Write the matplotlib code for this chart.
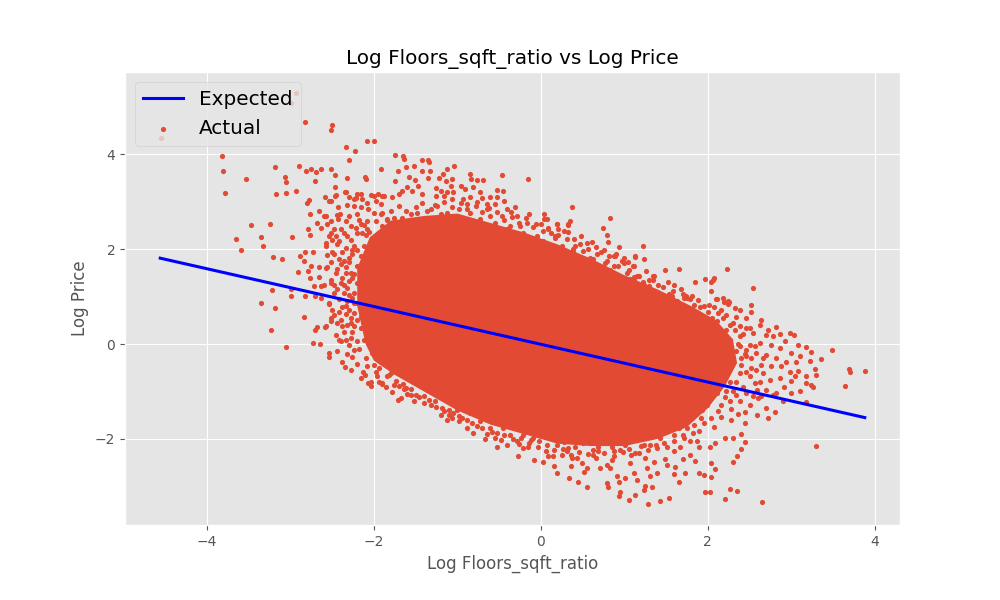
import matplotlib
matplotlib.use("Agg")
import matplotlib.pyplot as plt

plt.style.use("ggplot")

# regression line ("Expected"), end points
expected_x = [-4.56, 3.88]
expected_y = [1.81, -1.55]

# outline of the packed part of the cloud, where single dots can't be told apart
core_outline = [
    (-2.1, 0.0), (-2.2, 0.8), (-2.2, 1.6), (-2.05, 2.25), (-1.8, 2.6),
    (-1.4, 2.7), (-1.0, 2.75), (-0.6, 2.55), (-0.2, 2.35), (0.2, 2.1),
    (0.6, 1.8), (1.0, 1.45), (1.4, 1.15), (1.8, 0.8), (2.1, 0.5),
    (2.3, 0.1), (2.35, -0.4), (2.2, -0.9), (2.0, -1.35), (1.75, -1.75),
    (1.4, -2.0), (1.0, -2.15), (0.6, -2.15), (0.2, -2.1), (-0.2, -1.9),
    (-0.6, -1.7), (-1.0, -1.4), (-1.4, -1.0), (-1.75, -0.65), (-2.0, -0.35),
]

# single dots, grouped by where they sit in the cloud
far_left_pts = [
    (-2.93, 5.30), (-2.99, 5.09), (-2.83, 4.68), (-2.50, 4.62), (-2.52, 4.51),
    (-4.55, 4.35), (-2.08, 4.28), (-2.00, 4.28), (-2.34, 4.16), (-2.23, 4.07),
    (-2.30, 3.88), (-3.82, 3.97), (-3.81, 3.65), (-3.53, 3.48), (-3.78, 3.19),
    (-3.19, 3.73), (-2.90, 3.76), (-2.81, 3.64), (-2.75, 3.68), (-2.69, 3.63),
    (-2.64, 3.68), (-2.52, 3.68), (-2.47, 3.57), (-3.07, 3.52), (-3.05, 3.42),
    (-2.70, 3.44), (-2.32, 3.50), (-2.10, 3.47), (-2.11, 3.53), (-2.47, 3.32),
    (-2.93, 3.23), (-3.05, 3.19), (-3.17, 3.16), (-2.78, 3.03), (-2.80, 2.98),
    (-2.59, 3.10), (-2.52, 3.01), (-2.47, 3.12), (-2.35, 3.21), (-2.30, 3.10),
    (-2.22, 3.07), (-2.16, 3.16), (-2.04, 3.14), (-2.66, 2.81), (-2.77, 2.74),
    (-2.58, 2.70), (-2.68, 2.55), (-2.79, 2.42), (-2.64, 2.45), (-2.76, 2.30),
    (-3.47, 2.51), (-3.25, 2.53), (-3.35, 2.26), (-3.33, 2.07), (-3.65, 2.22),
    (-3.59, 1.98), (-2.98, 2.26), (-3.21, 1.84), (-3.10, 1.80), (-2.89, 1.86),
    (-2.83, 1.94), (-2.73, 1.93), (-2.84, 1.74), (-2.75, 1.65), (-2.66, 1.62),
    (-2.56, 1.63), (-2.91, 1.52), (-2.79, 1.54), (-2.66, 1.41), (-2.77, 1.39),
    (-3.22, 1.14), (-2.99, 1.15), (-2.99, 1.01), (-3.35, 0.87), (-2.72, 1.22),
    (-2.63, 1.22), (-2.52, 1.29), (-2.48, 1.08), (-3.19, 0.76), (-2.83, 1.01),
    (-2.71, 1.01), (-2.64, 0.97), (-2.54, 0.84), (-2.84, 0.57), (-3.23, 0.30),
    (-3.05, -0.06), (-2.73, 0.02), (-2.65, 0.00), (-2.71, 0.30), (-2.68, 0.36),
    (-2.59, 0.36), (-2.51, 0.48), (-2.52, 0.55), (-2.42, 0.68), (-2.40, 0.51),
    (-2.34, 0.63), (-2.30, 0.72), (-2.24, 0.65), (-2.32, 0.41), (-2.38, 0.37),
    (-2.27, 0.44), (-2.20, 0.51), (-2.16, 0.34), (-2.54, -0.27), (-2.44, -0.15),
    (-2.38, -0.38), (-2.35, -0.49), (-2.32, -0.21), (-2.26, -0.27), (-2.24, -0.12),
    (-2.40, 0.06), (-2.34, 0.09), (-2.20, 0.06), (-2.12, 0.09), (-2.10, -0.30),
    (-2.08, -0.47), (-2.13, -0.58), (-2.11, -0.65), (-2.07, -0.82), (-2.03, -0.88),
    (-1.98, -0.58), (-1.94, -0.80), (-1.90, -0.84), (-2.00, -0.44), (-1.92, -0.37),
    (-2.02, -0.19), (-1.88, -0.26), (-1.96, -0.08), (-2.08, 0.27), (-2.00, 0.34),
    (-1.92, 0.20), (-2.02, 0.13), (-2.08, 0.55), (-1.98, 0.62), (-1.90, 0.48),
]

upper_left_pts = [
    (-2.20, 3.16), (-2.14, 3.05), (-2.00, 3.12), (-1.95, 3.16), (-1.90, 3.11),
    (-1.98, 3.02), (-2.08, 2.98), (-1.92, 2.95), (-2.43, 2.88), (-2.32, 2.93),
    (-2.24, 2.91), (-2.16, 2.88), (-2.07, 2.84), (-2.00, 2.77), (-1.91, 2.74),
    (-2.41, 2.74), (-2.30, 2.70), (-2.20, 2.74), (-2.52, 2.59), (-2.43, 2.63),
    (-2.34, 2.59), (-2.27, 2.49), (-2.16, 2.52), (-2.08, 2.42), (-1.98, 2.59),
    (-1.90, 2.49), (-2.48, 2.42), (-2.40, 2.42), (-2.56, 2.52), (-2.54, 2.28),
    (-2.46, 2.28), (-2.32, 2.28), (-2.20, 2.35), (-2.10, 2.29), (-2.00, 2.21),
    (-1.88, 2.28), (-2.57, 2.07), (-2.44, 2.10), (-2.34, 2.03), (-2.24, 2.07),
    (-2.12, 2.07), (-2.02, 2.00), (-1.92, 2.07), (-2.48, 1.89), (-2.38, 1.93),
    (-2.26, 1.89), (-2.16, 1.86), (-2.06, 1.82), (-1.96, 1.87), (-1.86, 1.89),
    (-2.52, 1.72), (-2.40, 1.68), (-2.30, 1.72), (-2.20, 1.65), (-2.10, 1.68),
    (-1.98, 1.65), (-1.88, 1.65), (-2.46, 1.50), (-2.34, 1.50), (-2.24, 1.47),
    (-2.14, 1.50), (-2.02, 1.43), (-1.92, 1.47), (-2.40, 1.29), (-2.30, 1.33),
    (-2.20, 1.29), (-2.10, 1.22), (-1.98, 1.26), (-1.88, 1.29), (-2.36, 1.08),
    (-2.24, 1.08), (-2.14, 1.05), (-2.04, 1.08), (-1.92, 1.05), (-2.32, 0.91),
    (-2.20, 0.87), (-2.46, 3.15), (-2.54, 3.01), (-2.34, 3.20), (-2.24, 3.05),
    (-2.60, 2.69), (-2.44, 2.73), (-2.08, 2.59), (-1.84, 2.62), (-2.52, 2.34),
    (-2.14, 2.34), (-2.58, 2.13), (-2.20, 1.99), (-1.94, 1.92), (-2.56, 1.88),
    (-2.36, 1.74), (-2.58, 1.60), (-2.28, 1.50), (-2.04, 1.43), (-2.52, 1.36),
    (-2.36, 1.25), (-2.12, 1.22), (-2.60, 1.25), (-2.44, 1.15), (-2.30, 1.04),
    (-2.54, 0.86), (-2.38, 0.79), (-2.24, 0.86), (-2.48, 0.62), (-2.16, 0.58),
    (-2.58, 0.37), (-2.24, 0.37), (-2.42, 0.09), (-2.28, 0.13), (-2.54, -0.18),
    (-2.04, -0.79), (-1.84, -0.68), (-1.96, 0.80), (-1.90, 0.95),
]

upper_pts = [
    (-1.75, 3.99), (-1.65, 3.97), (-1.64, 3.91), (-1.42, 3.88), (-1.35, 3.88),
    (-1.34, 3.84), (-1.91, 3.68), (-1.71, 3.65), (-1.62, 3.73), (-1.52, 3.76),
    (-1.43, 3.65), (-1.33, 3.65), (-1.17, 3.58), (-1.12, 3.68), (-1.04, 3.76),
    (-1.22, 3.51), (-1.14, 3.44), (-1.06, 3.47), (-0.96, 3.33), (-0.85, 3.58),
    (-0.84, 3.47), (-0.76, 3.46), (-0.69, 3.46), (-0.47, 3.57), (-0.16, 3.48),
    (-1.75, 3.44), (-1.58, 3.52), (-1.51, 3.46), (-1.35, 3.51), (-1.60, 3.30),
    (-1.54, 3.23), (-1.47, 3.33), (-1.66, 3.23), (-1.70, 3.16), (-1.78, 3.09),
    (-1.88, 3.11), (-1.42, 3.16), (-1.26, 3.28), (-1.20, 3.23), (-1.12, 3.21),
    (-1.05, 3.21), (-1.08, 3.33), (-0.91, 3.26), (-0.81, 3.31), (-0.73, 3.21),
    (-0.53, 3.25), (-0.45, 3.22), (-1.26, 3.12), (-1.16, 3.12), (-1.06, 3.05),
    (-0.93, 3.05), (-0.85, 3.09), (-0.77, 3.00), (-0.71, 3.07), (-0.61, 3.09),
    (-0.53, 3.09), (-0.65, 2.95), (-0.55, 2.95), (-0.44, 3.02), (-0.41, 2.84),
    (-0.31, 2.88), (-0.65, 2.84), (-1.90, 2.77), (-1.84, 2.63), (-1.76, 2.66),
    (-1.66, 2.66), (-1.56, 2.74), (-1.48, 2.77), (-1.40, 2.63), (-1.32, 2.84),
    (-1.27, 2.93), (-1.20, 2.74), (-1.12, 2.77), (-0.98, 2.84), (-0.89, 2.95),
    (-0.85, 2.77), (-0.73, 2.63), (-0.61, 2.70), (-0.55, 2.56), (-0.47, 2.70),
    (-0.35, 2.67), (-0.29, 2.70), (-0.14, 2.74), (0.04, 2.74), (0.07, 2.63),
    (-0.06, 2.52), (-0.17, 2.56), (-0.25, 2.49), (-0.37, 2.49), (-0.41, 2.42),
    (-0.21, 2.35), (-0.05, 2.28), (0.09, 2.45), (0.19, 2.52), (0.03, 2.17),
    (0.17, 2.24), (0.21, 2.42), (0.33, 2.52), (0.35, 2.59), (0.37, 2.89),
    (0.33, 2.36), (0.47, 2.10), (0.55, 2.14), (0.61, 2.15), (0.75, 2.45),
    (0.79, 2.29), (0.83, 2.66), (0.94, 2.05), (0.87, 1.86), (0.90, 1.89),
    (0.99, 1.82), (1.13, 1.84), (1.11, 1.65), (1.04, 1.72), (0.67, 1.89),
    (0.79, 1.75), (0.87, 1.65), (1.03, 1.50), (0.95, 1.36), (1.11, 1.36),
    (1.15, 1.43), (0.55, 1.72), (0.63, 1.79), (0.71, 1.58), (0.47, 1.79),
    (0.39, 1.93), (0.41, 2.07), (0.27, 1.89), (0.25, 2.07), (0.31, 2.21),
    (-1.84, 2.42), (-1.74, 2.49), (-1.68, 2.35), (-1.60, 2.49), (-1.52, 2.35),
    (-1.40, 2.42), (-1.28, 2.35), (-1.12, 2.42), (-0.96, 2.49), (-0.85, 2.42),
    (-0.73, 2.35), (-0.61, 2.42), (-1.88, 2.07), (-1.72, 2.07), (-1.56, 2.14),
    (-1.40, 2.10), (-1.24, 2.14), (-1.12, 2.21), (-0.93, 2.21), (-0.77, 2.17),
    (-0.65, 2.21), (-0.49, 2.24), (-0.33, 2.21), (-0.17, 2.21), (0.04, 2.64),
    (0.32, 2.50), (0.19, 2.53), (0.09, 2.43), (0.17, 2.27), (0.02, 2.38),
    (0.81, 2.15), (0.76, 1.98), (0.89, 1.85), (0.97, 1.74), (1.13, 1.85),
    (0.39, 2.00), (0.29, 1.96), (0.51, 1.96), (0.59, 1.81), (0.77, 1.71),
    (0.83, 1.57), (1.07, 1.37), (1.12, 1.41), (1.10, 1.64), (1.34, 1.44),
    (1.40, 1.25), (1.60, 1.25), (0.99, 1.15), (0.87, 1.08), (1.07, 1.01),
    (1.19, 1.08), (1.31, 1.15),
]

right_pts = [
    (1.22, 2.07), (1.23, 1.80), (1.26, 1.54), (1.35, 1.43), (1.34, 1.35),
    (1.49, 1.56), (1.65, 1.58), (2.23, 1.58), (2.54, 1.18), (1.97, 1.37),
    (2.07, 1.39), (2.04, 1.31), (1.85, 1.31), (1.24, 1.24), (1.30, 1.22),
    (1.21, 1.15), (2.04, 1.12), (2.18, 0.97), (2.10, 0.94), (2.25, 0.89),
    (1.81, 1.01), (1.70, 1.05), (1.57, 1.01), (1.53, 1.05), (1.47, 1.01),
    (1.39, 1.08), (1.35, 1.00), (1.26, 0.98), (1.79, 0.96), (1.72, 0.98),
    (1.63, 0.91), (1.45, 0.91), (2.06, 1.34), (2.52, 0.83), (2.24, 0.84),
    (2.32, 0.76), (2.38, 0.72), (1.91, 0.79), (1.83, 0.83), (1.75, 0.97),
    (2.30, 0.44), (2.46, 0.34), (2.54, 0.23), (2.38, 0.16), (2.22, 0.30),
    (2.07, 0.37), (1.95, 0.44), (1.85, 0.58), (1.75, 0.58), (1.63, 0.69),
    (2.11, 0.02), (2.22, -0.05), (2.38, -0.05), (2.46, -0.12), (2.58, -0.19),
    (1.99, -0.12), (1.87, -0.12), (2.07, -0.40), (2.22, -0.40), (2.38, -0.61),
    (2.50, -0.68), (2.58, -0.54), (1.91, -0.54), (1.99, -0.68), (2.15, -0.75),
    (2.11, 0.95), (2.19, 0.89), (2.24, 0.90), (2.07, 0.79), (2.16, 0.72),
    (2.52, 0.68), (2.22, 0.62), (2.34, 0.58), (2.46, 0.55), (2.11, 0.48),
    (2.26, 0.41), (2.38, 0.37), (2.50, 0.34), (2.64, 0.51), (2.62, 0.41),
    (2.72, 0.30), (2.82, 0.36), (2.70, 0.20), (2.78, 0.16), (2.86, 0.21),
    (2.98, 0.23), (3.03, 0.20), (2.92, 0.06), (3.08, -0.01), (3.18, -0.07),
    (3.24, -0.17), (3.49, -0.13), (3.35, -0.32), (3.10, -0.26), (3.00, -0.19),
    (2.86, -0.08), (2.76, -0.01), (2.62, 0.02), (2.50, -0.01), (2.26, 0.09),
    (2.14, 0.09), (2.05, 0.20), (2.11, -0.08), (2.22, -0.23), (2.34, -0.15),
    (2.46, -0.26), (2.70, -0.23), (2.82, -0.30), (2.94, -0.37), (3.06, -0.37),
    (3.22, -0.35), (3.28, -0.53), (3.29, -0.65), (3.18, -0.68), (3.08, -0.56),
    (2.98, -0.58), (2.88, -0.47), (2.76, -0.47), (2.64, -0.44), (2.52, -0.51),
    (2.40, -0.44), (2.28, -0.47), (2.07, -0.51), (2.03, -0.72), (2.26, -0.79),
    (2.62, -0.79), (2.74, -0.75), (2.86, -0.72), (3.00, -0.77), (3.04, -0.68),
    (3.24, -0.86), (3.18, -0.82), (3.26, -0.91), (3.10, -1.00), (3.00, -1.03),
    (2.91, -0.91), (2.82, -1.03), (2.70, -0.96), (2.59, -0.96), (2.46, -1.03),
    (2.34, -1.07), (2.22, -1.00), (2.11, -1.03), (3.69, -0.53), (3.70, -0.59),
    (3.88, -0.57), (3.64, -0.88), (3.17, -1.22), (2.90, -1.21), (2.78, -1.07),
    (2.60, -1.14), (2.50, -1.28), (2.38, -1.21), (2.26, -1.21), (2.16, -1.28),
    (2.70, -1.35), (2.80, -1.43), (2.59, -1.49), (2.72, -1.56), (2.45, -1.66),
    (2.28, -1.60), (2.16, -1.53), (2.07, -1.74), (1.95, -1.67), (1.83, -1.70),
    (1.75, -1.77), (1.89, 0.62), (1.83, 0.27), (1.91, -0.01), (1.87, -0.30),
    (1.89, -0.61), (1.85, -0.86), (1.93, -1.07), (1.97, 0.34), (2.05, 0.55),
    (2.01, 0.83), (1.99, -0.37), (2.01, -0.19), (2.03, 0.06), (1.93, -0.58),
    (1.99, -0.72), (1.95, -0.86), (1.87, -1.00), (1.91, -1.14), (1.99, -1.28),
    (1.93, -1.39), (1.85, -1.42), (1.81, -1.56),
]

lower_pts = [
    (2.40, -1.90), (2.30, -1.98), (2.20, -1.97), (2.45, -2.07), (2.40, -2.21),
    (2.35, -2.36), (2.30, -2.49), (3.29, -2.15), (2.09, -2.09), (2.02, -2.16),
    (1.90, -2.16), (2.04, -2.51), (2.09, -2.64), (1.89, -2.72), (1.95, -2.76),
    (2.04, -2.81), (1.97, -3.11), (2.03, -3.11), (2.26, -3.06), (2.35, -3.10),
    (2.21, -3.26), (2.65, -3.33), (1.53, -3.25), (1.43, -3.31), (1.28, -3.38),
    (1.66, -2.91), (1.73, -2.72), (1.60, -2.74), (1.51, -2.55), (1.61, -2.59),
    (1.70, -2.43), (1.79, -2.33), (1.85, -2.46), (1.49, -2.42), (1.35, -2.48),
    (1.25, -2.41), (1.31, -2.79), (1.39, -2.72), (1.25, -3.00), (1.33, -3.02),
    (1.23, -3.07), (1.79, -2.05), (1.87, -2.05), (1.71, -1.98), (1.59, -1.91),
    (1.89, -1.84), (1.51, -2.16), (1.39, -2.19), (1.31, -2.12), (1.23, -2.12),
    (1.59, -2.26), (1.43, -1.98), (1.33, -1.88), (1.67, -2.16), (1.27, -2.62),
    (1.65, -1.77), (-1.90, -0.82), (-1.82, -0.65), (-1.76, -0.86), (-1.70, -0.89),
    (-1.62, -0.68), (-1.71, -1.17), (-1.68, -1.14), (-1.52, -1.21), (-1.50, -1.07),
    (-1.40, -1.24), (-1.32, -1.28), (-1.30, -1.00), (-1.20, -1.49), (-1.12, -1.60),
    (-1.06, -1.56), (-0.98, -1.63), (-1.10, -1.39), (-1.00, -1.39), (-0.88, -1.77),
    (-0.81, -1.88), (-0.85, -1.46), (-0.73, -1.63), (-0.67, -2.00), (-0.53, -2.16),
    (-0.61, -1.77), (-0.55, -1.98), (-0.45, -1.77), (-0.37, -1.91), (-0.41, -2.12),
    (-0.29, -2.05), (-0.27, -2.35), (-0.21, -2.19), (-0.15, -2.16), (-0.08, -2.45),
    (0.02, -2.49), (-0.09, -1.98), (-0.03, -1.91), (0.07, -2.12), (0.09, -2.37),
    (0.15, -2.37), (0.16, -2.58), (0.19, -2.72), (0.25, -2.33), (0.31, -2.26),
    (0.37, -2.41), (0.36, -2.58), (0.43, -2.41), (0.49, -2.51), (0.52, -2.69),
    (0.55, -2.62), (0.34, -2.83), (0.44, -2.91), (0.55, -3.02), (0.71, -2.62),
    (0.79, -2.55), (0.83, -2.62), (0.87, -2.26), (0.95, -2.23), (0.91, -2.79),
    (0.94, -2.90), (0.79, -2.93), (0.80, -3.02), (1.01, -2.83), (0.95, -3.11),
    (0.93, -3.21), (1.05, -3.28), (1.13, -3.18), (1.15, -2.86), (1.11, -2.72),
    (1.07, -2.51), (1.13, -2.30), (0.63, -2.33), (0.69, -2.26), (0.85, -2.44),
    (-0.21, -1.91), (-0.93, -1.28), (-0.79, -1.35), (-1.46, -0.82), (-1.88, -0.37),
    (-1.84, -0.23), (-1.68, -0.37), (-1.56, -0.47), (-0.02, -2.04), (0.11, -1.99),
    (0.19, -2.12), (0.28, -2.06), (0.41, -2.17), (0.50, -2.08), (0.58, -2.02),
    (0.68, -2.16), (0.79, -2.09), (0.90, -2.04), (1.01, -2.12), (1.12, -2.01),
    (1.20, -2.15), (0.33, -2.20), (0.62, -2.24), (0.85, -2.18), (1.05, -2.22),
    (-0.12, -2.03), (-0.24, -1.97), (-0.44, -1.92), (-0.58, -1.85), (-0.70, -1.78),
    (-0.82, -1.66), (-0.95, -1.55), (-1.05, -1.45), (-1.18, -1.35), (-1.27, -1.20),
    (-1.40, -1.10), (-1.55, -0.95), (-1.65, -0.85),
]

# dots crowding just outside the packed part
edge_pts = [
    (-2.50, 2.20), (-2.42, 2.18), (-2.36, 2.35), (-2.28, 2.20), (-2.22, 2.44),
    (-2.18, 2.62), (-2.12, 2.50), (-2.06, 2.36), (-2.26, 1.98), (-2.30, 1.82),
    (-2.42, 1.80), (-2.50, 1.95), (-2.34, 1.62), (-2.44, 1.58), (-2.26, 1.40),
    (-2.38, 1.40), (-2.48, 1.25), (-2.32, 1.18), (-2.26, 0.98), (-2.42, 0.96),
    (-2.50, 0.72), (-2.34, 0.80), (-2.28, 0.55), (-2.44, 0.45), (-2.36, 0.25),
    (-2.26, 0.25), (-2.46, 0.20), (-2.30, -0.02), (-2.18, -0.10), (-2.20, -0.42),
    (-2.28, -0.55), (-2.16, -0.72), (-1.96, -0.68), (-1.86, -0.90), (-1.78, -1.02),
    (-1.60, -1.05), (-1.64, -0.95), (-1.80, 2.80), (-1.70, 2.92), (-1.62, 2.80),
    (-1.50, 2.88), (-1.42, 2.98), (-1.36, 2.80), (-1.24, 2.90), (-1.16, 3.00),
    (-1.06, 2.88), (-0.96, 2.98), (-0.88, 2.84), (-0.78, 2.90), (-0.70, 2.78),
    (-0.62, 2.86), (-0.52, 2.78), (-0.44, 2.62), (-0.36, 2.78), (-0.26, 2.56),
    (-0.18, 2.66), (-0.10, 2.46), (0.00, 2.52), (0.12, 2.34), (0.20, 2.30),
    (0.28, 2.38), (0.40, 2.22), (0.48, 2.28), (0.56, 2.00), (0.66, 2.04),
    (0.72, 1.94), (0.82, 1.86), (0.92, 1.64), (1.00, 1.70), (1.06, 1.56),
    (1.18, 1.44), (1.22, 1.30), (1.30, 1.36), (1.46, 1.20), (1.52, 1.30),
    (1.58, 1.12), (1.68, 1.16), (1.74, 1.02), (1.88, 0.92), (1.96, 0.80),
    (2.00, 0.68), (2.12, 0.66), (2.18, 0.55), (2.32, 0.30), (2.42, 0.22),
    (2.36, 0.00), (2.44, -0.20), (2.52, -0.30), (2.40, -0.30), (2.46, -0.58),
    (2.34, -0.80), (2.42, -0.90), (2.30, -0.98), (2.20, -1.12), (2.28, -1.36),
    (2.12, -1.42), (2.04, -1.55), (2.56, -0.04), (2.66, -0.30), (2.56, -0.82),
    (2.66, -0.62), (2.54, -1.10), (2.64, -1.10), (2.44, -1.44), (2.36, -1.48),
    (1.92, -1.55), (1.82, -1.88), (1.70, -1.92), (1.60, -2.05), (1.48, -2.08),
    (1.38, -2.12), (1.28, -2.24), (1.18, -2.30), (1.08, -2.34), (0.98, -2.28),
    (0.88, -2.36), (0.76, -2.30), (0.66, -2.40), (0.56, -2.32), (0.46, -2.28),
    (0.36, -2.34), (0.26, -2.22), (0.16, -2.24), (0.06, -2.26), (-0.04, -2.16),
    (-0.14, -2.08), (-0.26, -2.10), (-0.34, -2.00), (-0.48, -2.02), (-0.52, -1.88),
    (-0.64, -1.90), (-0.76, -1.72), (-0.88, -1.60), (-0.98, -1.52), (-1.10, -1.50),
    (-1.16, -1.42), (-1.26, -1.32), (-1.34, -1.18), (-1.46, -1.12), (-1.56, -1.08),
    (-1.62, -0.92), (-1.74, -0.78), (-1.80, -0.60), (-1.94, -0.50),
]

all_pts = (far_left_pts + upper_left_pts + upper_pts + right_pts
           + lower_pts + edge_pts)
actual_x = [p[0] for p in all_pts]
actual_y = [p[1] for p in all_pts]
core_x = [p[0] for p in core_outline]
core_y = [p[1] for p in core_outline]

fig, ax = plt.subplots(figsize=(10, 6), dpi=100)
fig.subplots_adjust(left=0.125, right=0.9, top=0.88, bottom=0.125)

ax.plot(expected_x, expected_y, color='b', lw=2.2, label='Expected', zorder=3)
ax.fill(core_x, core_y, color='#E24A33', lw=0, zorder=1)
ax.scatter(actual_x, actual_y, s=14, color='#E24A33', linewidths=0,
           label='Actual', zorder=1)

ax.set_title('Log Floors_sqft_ratio vs Log Price')
ax.set_xlabel('Log Floors_sqft_ratio')
ax.set_ylabel('Log Price')
ax.legend(loc='upper left', fontsize='x-large')

fig.savefig('out.png', dpi=100)
